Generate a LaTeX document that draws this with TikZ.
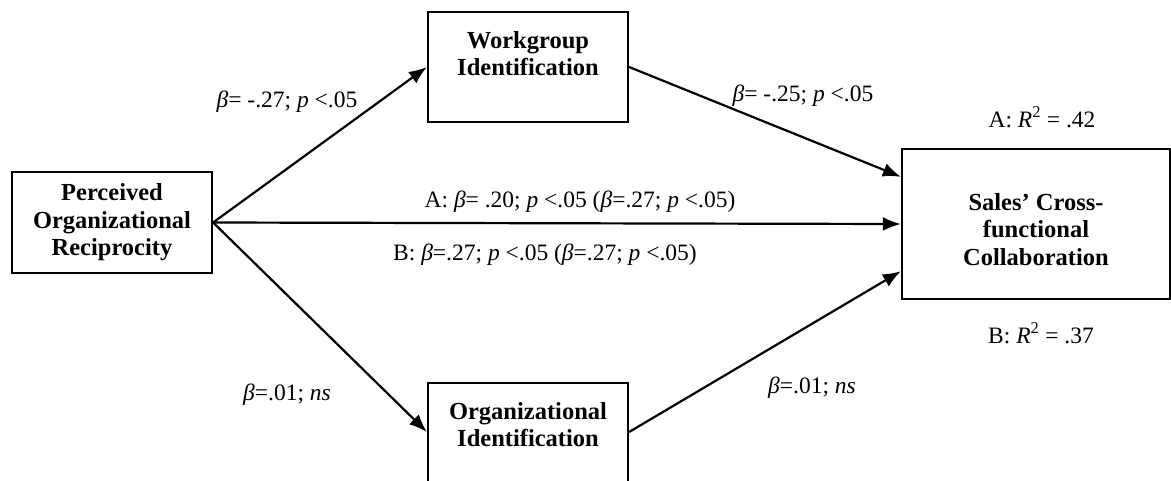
\documentclass[tikz,border=0pt]{standalone}
\usepackage{fontspec}
\setmainfont{Liberation Serif}
\usepackage{tikz}
\usetikzlibrary{calc}
\usetikzlibrary{arrows.meta}
\tikzset{>={Latex[length=18pt,width=14pt]}}
\newcommand{\bt}{\textit{β}}

\begin{document}
\begin{tikzpicture}[x=1pt, y=-1pt,
	box/.style={draw=black, line width=2.2pt, align=center, inner sep=0pt,
		font=\fontsize{24.5}{27.5}\selectfont\bfseries},
	lbl/.style={anchor=base, inner sep=0pt, font=\fontsize{23.5}{27}\selectfont},
	path/.style={->, line width=2.2pt}]

	\useasboundingbox (0,0) rectangle (1171,480);

	% Variabili
	\node[box, minimum width=200pt, minimum height=101pt](por) at (112,222.5)
	{Perceived\\Organizational\\Reciprocity};
	\node[box, minimum width=200pt, minimum height=110pt](wg) at (528,67)
	{Workgroup\\Identification\\~};
	\node[box, minimum width=200pt, minimum height=110pt](oi) at (528,438)
	{Organizational\\Identification\\~};
	\node[box, minimum width=268pt, minimum height=150pt](scf) at (1036,224)
	{~\\Sales' Cross-\\functional\\Collaboration};

	\coordinate (s1) at ($(scf.north west)!0.19!(scf.south west)$);
	\coordinate (s3) at ($(scf.north west)!0.81!(scf.south west)$);

	% Frecce
	\draw[path] (por.east) -- (wg.west);
	\draw[path] (por.east) -- (oi.west |- 0,432);
	\draw[path] (por.east) -- (scf.west);
	\draw[path] (wg.east) -- (s1);
	\draw[path] (oi.east |- 0,432) -- (s3);

	% Coefficienti
	\node[lbl](b1) at (287,107) {\bt= -.27; \textit{p} <.05};
	\node[lbl](b2) at (803,101) {\bt= -.25; \textit{p} <.05};
	\node[lbl](bA) at (580,207) {A: \bt= .20; \textit{p} <.05 (\bt=.27; \textit{p} <.05)};
	\node[lbl](bB) at (545,260) {B: \bt=.27; \textit{p} <.05 (\bt=.27; \textit{p} <.05)};
	\node[lbl](b3) at (287,400) {\bt=.01; \textit{ns}};
	\node[lbl](b4) at (812,393) {\bt=.01; \textit{ns}};
	\node[lbl](rA) at (1042,127) {A: \textit{R}\textsuperscript{2} = .42};
	\node[lbl](rB) at (1041,343) {B: \textit{R}\textsuperscript{2} = .37};

\end{tikzpicture}
\end{document}
